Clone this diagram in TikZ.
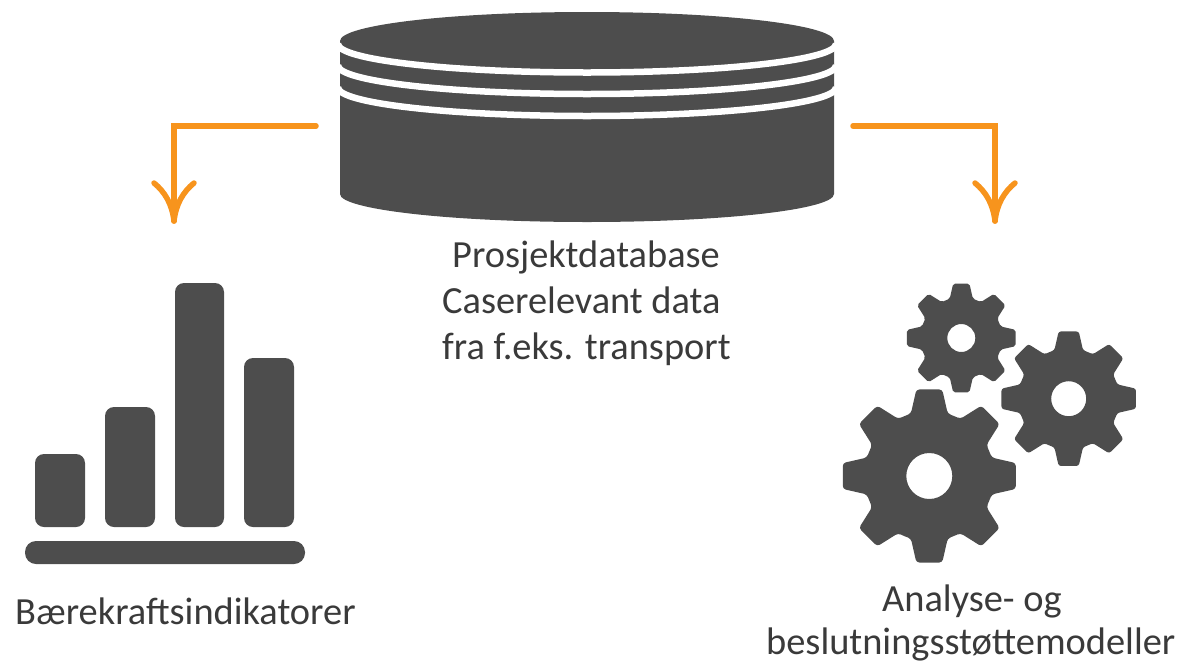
\documentclass[tikz,border=0pt]{standalone}
\usepackage{fontspec}
\setmainfont{Carlito}
\usetikzlibrary{calc}
\definecolor{icon}{HTML}{4D4D4D}
\definecolor{flow}{HTML}{F7941D}
\definecolor{ink}{HTML}{3A3A3A}
\newcommand{\gearshape}[4]{% cx, cy, outer radius, hole radius
  \fill[icon,even odd rule,rounded corners=#3*0.035pt]
    ($(#1,#2)+(112.5:#3*0.745)$)
    \foreach \a in {0,-45,...,-315}{
      -- ($(#1,#2)+(\a+90+16.4:#3*0.745)$)
      -- ($(#1,#2)+(\a+90+8.5:#3)$)
      -- ($(#1,#2)+(\a+90-8.5:#3)$)
      -- ($(#1,#2)+(\a+90-16.4:#3*0.745)$)
    } -- cycle
    [sharp corners] (#1,#2) circle[radius=#4];
}
\tikzset{
  flowline/.style={flow,line width=5.5pt,line cap=round,line join=round},
  lbl/.style={font=\fontsize{38.4}{38.4}\selectfont,text=ink,inner sep=0pt,anchor=base west},
  barshape/.style={fill=icon,rounded corners=9pt},
}
\begin{document}
\begin{tikzpicture}[x=1pt,y=-1pt]
\useasboundingbox (0,0) rectangle (1184,662);
% cylinder
\fill[icon] (340,41) arc[x radius=247,y radius=29,start angle=180,end angle=360]
  -- (834,194) arc[x radius=247,y radius=28,start angle=0,end angle=180] -- cycle;
\foreach \yy in {44,65.5,87.5}{
  \draw[white,line width=6.5pt] (338,\yy) arc[x radius=249,y radius=28.5,start angle=180,end angle=0];
}
% bars
\fill[barshape] (35,454) rectangle (85,527);
\fill[barshape] (105,407) rectangle (155,527);
\fill[barshape] (175,283) rectangle (224,527);
\fill[barshape] (244,358) rectangle (294,527);
\fill[icon,rounded corners=11pt] (25,541) rectangle (305,564);
% gears
\gearshape{929.3}{476}{87.5}{23}
\gearshape{1068.7}{398.7}{68}{17.5}
\gearshape{961.3}{338}{55}{14}
% connectors
\coordinate (ls) at (316,126);
\coordinate (lc) at (174,126);
\coordinate (le) at (174,221);
\coordinate (rs) at (853,126);
\coordinate (rc) at (995,126);
\coordinate (re) at (995,221);
\draw[flowline,line join=miter] (ls) -- (lc) -- (le);
\draw[flowline,line join=miter] (rs) -- (rc) -- (re);
\draw[flowline] ($(le)+(-20,-38)$) .. controls ($(le)+(-9,-29)$) and ($(le)+(-2,-17)$) .. (le)
  .. controls ($(le)+(2,-17)$) and ($(le)+(9,-29)$) .. ($(le)+(20,-38)$);
\draw[flowline] ($(re)+(-20,-38)$) .. controls ($(re)+(-9,-29)$) and ($(re)+(-2,-17)$) .. (re)
  .. controls ($(re)+(2,-17)$) and ($(re)+(9,-29)$) .. ($(re)+(20,-38)$);
% labels
\node[lbl] (t1) at (452,267) {Prosjektdatabase};
\node[lbl] (t2) at (442,313) {Caserelevant data};
\node[lbl] (t3) at (442,359) {fra f.eks. transport};
\node[lbl] (t4) at (15,624) {Bærekraftsindikatorer};
\node[lbl] (t5) at (882,611) {Analyse- og};
\node[lbl] (t6) at (766,654) {beslutningsstøttemodeller};
\end{tikzpicture}
\end{document}
